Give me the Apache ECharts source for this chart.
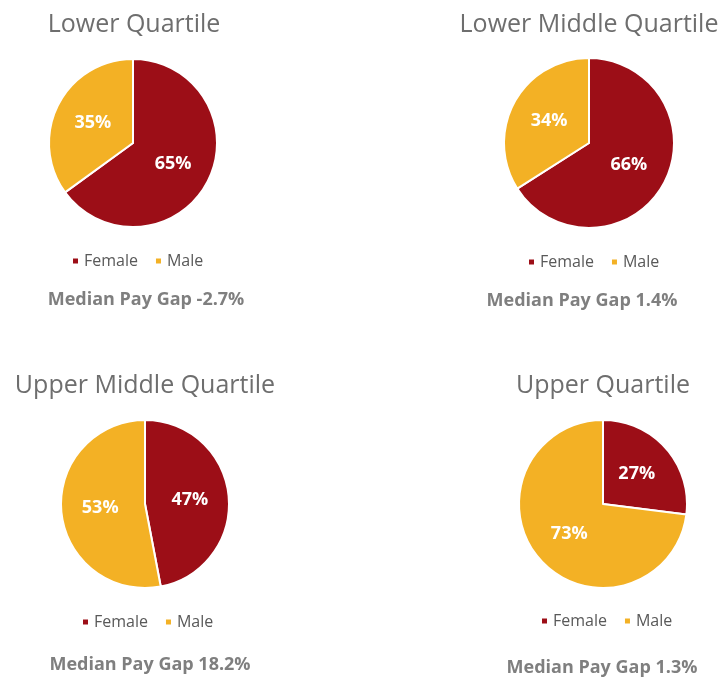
<!DOCTYPE html>
<html>
<head>
<meta charset="utf-8">
<script src="https://cdn.jsdelivr.net/npm/echarts@6/dist/echarts.min.js"></script>
<style>
  html, body { margin: 0; padding: 0; background: #fff; }
  #main { width: 722px; height: 677px; }
</style>
</head>
<body>
<div id="main"></div>
<script>
  // 数据
  var genders = ['Female', 'Male'];
  var quartiles = ['Lower Quartile', 'Lower Middle Quartile', 'Upper Middle Quartile', 'Upper Quartile'];
  var femaleShare = [65, 66, 47, 27];
  var maleShare = [35, 34, 53, 73];
  var payGaps = ['-2.7%', '1.4%', '18.2%', '1.3%'];

  var colors = ['#9C0E17', '#F3B125'];
  var font = '"Open Sans", sans-serif';

  // 每个饼图的位置
  var centers = [[133, 143], [589, 143], [145, 504], [603, 504]];
  var radius = [84, 85, 84, 84];
  var titleX = [129, 584, 140, 598];
  var titleY = [7, 7, 368, 368];
  var legendX = [137, 593, 147, 606];   // 图例中心
  var legendY = [248, 249, 609, 608];
  var gapX = [141, 577, 145, 597];
  var gapY = [286, 287, 651, 654];

  var titles = [];
  var legends = [];
  var series = [];
  quartiles.forEach(function (q, i) {
    titles.push({
      text: q,
      left: titleX[i],
      top: titleY[i],
      textAlign: 'center',
      textStyle: { fontFamily: font, fontSize: 25, fontWeight: 'normal', color: '#6E6E6E' }
    });
    titles.push({
      text: 'Median Pay Gap ' + payGaps[i],
      left: gapX[i],
      top: gapY[i],
      textAlign: 'center',
      textStyle: { fontFamily: font, fontSize: 18, fontWeight: 'bold', color: '#7F7F7F' }
    });
    legends.push({
      data: genders,
      left: legendX[i] - 71,
      top: legendY[i],
      width: 160,
      icon: 'rect',
      itemWidth: 7,
      itemHeight: 7,
      itemGap: 16,
      textStyle: { fontFamily: font, fontSize: 16, color: '#595959' }
    });
    series.push({
      type: 'pie',
      center: centers[i],
      radius: radius[i],
      startAngle: 90,
      clockwise: true,
      silent: true,
      itemStyle: { borderColor: '#fff', borderWidth: 2 },
      label: {
        show: true,
        position: 'inside',
        formatter: '{c}%',
        color: '#fff',
        fontFamily: font,
        fontSize: 18,
        fontWeight: 'bold'
      },
      labelLine: { show: false },
      data: [
        { name: genders[0], value: femaleShare[i] },
        { name: genders[1], value: maleShare[i] }
      ]
    });
  });

  var myChart = echarts.init(document.getElementById('main'));
  myChart.setOption({
    backgroundColor: '#fff',
    animation: false,
    color: colors,
    title: titles,
    legend: legends,
    series: series
  });
</script>
</body>
</html>
